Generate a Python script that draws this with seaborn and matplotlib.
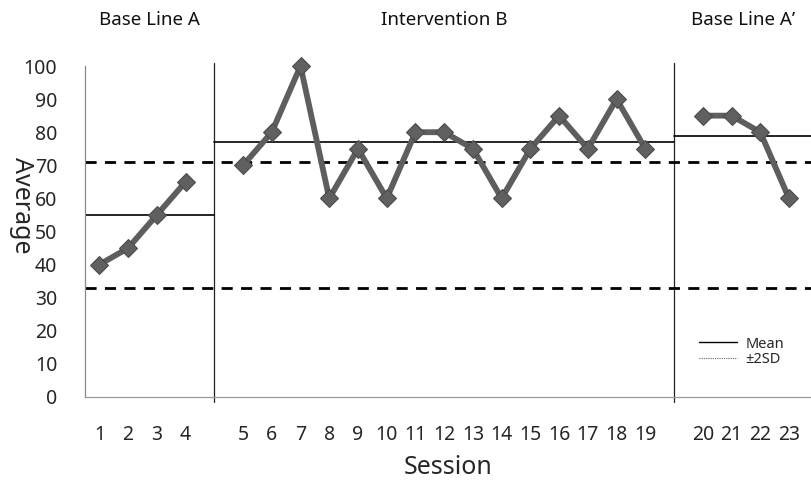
import numpy as np
import pandas as pd
import matplotlib
matplotlib.use('Agg')
import matplotlib.pyplot as plt
import seaborn as sns
from matplotlib.lines import Line2D

# Data
sessions_a = [1, 2, 3, 4]
values_a = [40, 45, 55, 65]
sessions_b = [5, 6, 7, 8, 9, 10, 11, 12, 13, 14, 15, 16, 17, 18, 19]
values_b = [70, 80, 100, 60, 75, 60, 80, 80, 75, 60, 75, 85, 75, 90, 75]
sessions_a2 = [20, 21, 22, 23]
values_a2 = [85, 85, 80, 60]

phase_names = ['Base Line A', 'Intervention B', 'Base Line A\u2019']
phase_means = [55, 77, 79]
sd_lines = [71, 33]

sns.set_theme(style='white')
plt.rcParams['font.family'] = ['Noto Sans', 'DejaVu Sans']

# one empty slot between phases
frames = []
for i, (s, v) in enumerate([(sessions_a, values_a), (sessions_b, values_b), (sessions_a2, values_a2)]):
    d = pd.DataFrame({'session': s, 'value': v})
    d['phase'] = phase_names[i]
    d['slot'] = d['session'] - 1 + i
    frames.append(d)
df = pd.concat(frames, ignore_index=True)

fig = plt.figure(figsize=(8.12, 4.82), dpi=100)
ax = fig.add_axes([85 / 812, 1 - 397 / 482, 727 / 812, 331 / 482])

sns.lineplot(data=df, x='slot', y='value', units='phase', estimator=None,
             color='#5e5e5e', linewidth=4.2, marker='D', markersize=9,
             markeredgecolor='#4a4a4a', markerfacecolor='#606060', ax=ax, legend=False)
for ln in ax.lines:
    ln.set_clip_on(False)
    ln.set_zorder(4)

# phase boundaries (midway in the gap slots)
bounds = [-0.5]
for i in range(1, 3):
    bounds.append(df.loc[df['phase'] == phase_names[i], 'slot'].min() - 1)
bounds.append(24.8)

for b in bounds[1:3]:
    ax.axvline(b, ymin=-0.015, ymax=1.01, color='#222222', linewidth=0.9, clip_on=False)

for i, m in enumerate(phase_means):
    ax.plot([bounds[i], bounds[i + 1]], [m, m], color='black', linewidth=1.2)

for y in sd_lines:
    ax.axhline(y, color='black', linewidth=2, linestyle=(0, (4, 3)))

for i, name in enumerate(phase_names):
    ax.text((bounds[i] + bounds[i + 1]) / 2, 1.14, name, transform=ax.get_xaxis_transform(),
            ha='center', va='center', fontsize=13.5, color='#111111')

ax.set_xlim(-0.5, 24.8)
ax.set_ylim(0, 100)
ax.set_yticks(np.arange(0, 101, 10))
ax.set_xticks(df['slot'])
ax.set_xticklabels(df['session'])
ax.tick_params(axis='x', length=0, pad=20, labelsize=14)
ax.tick_params(axis='y', length=0, pad=20, labelsize=14)
ax.set_xlabel('Session', fontsize=18, labelpad=7)
ax.set_ylabel('Average', fontsize=18, rotation=270, va='center', ha='center')
ax.yaxis.set_label_coords(-0.087, 0.58)

for side in ['top', 'right']:
    ax.spines[side].set_visible(False)
ax.spines['left'].set_color('#888888')
ax.spines['bottom'].set_color('#999999')
ax.spines['left'].set_linewidth(0.9)
ax.spines['bottom'].set_linewidth(0.9)

handles = [Line2D([], [], color='black', linewidth=1),
           Line2D([], [], color='#666666', linewidth=0.8, linestyle=(0, (1, 1)))]
ax.legend(handles, ['Mean', '\u00b12SD'], loc='lower left', bbox_to_anchor=(0.826, 0.05),
          frameon=False, fontsize=10.5, handlelength=2.6, labelspacing=0.05, handletextpad=0.6)

fig.savefig('out.png', dpi=100)
